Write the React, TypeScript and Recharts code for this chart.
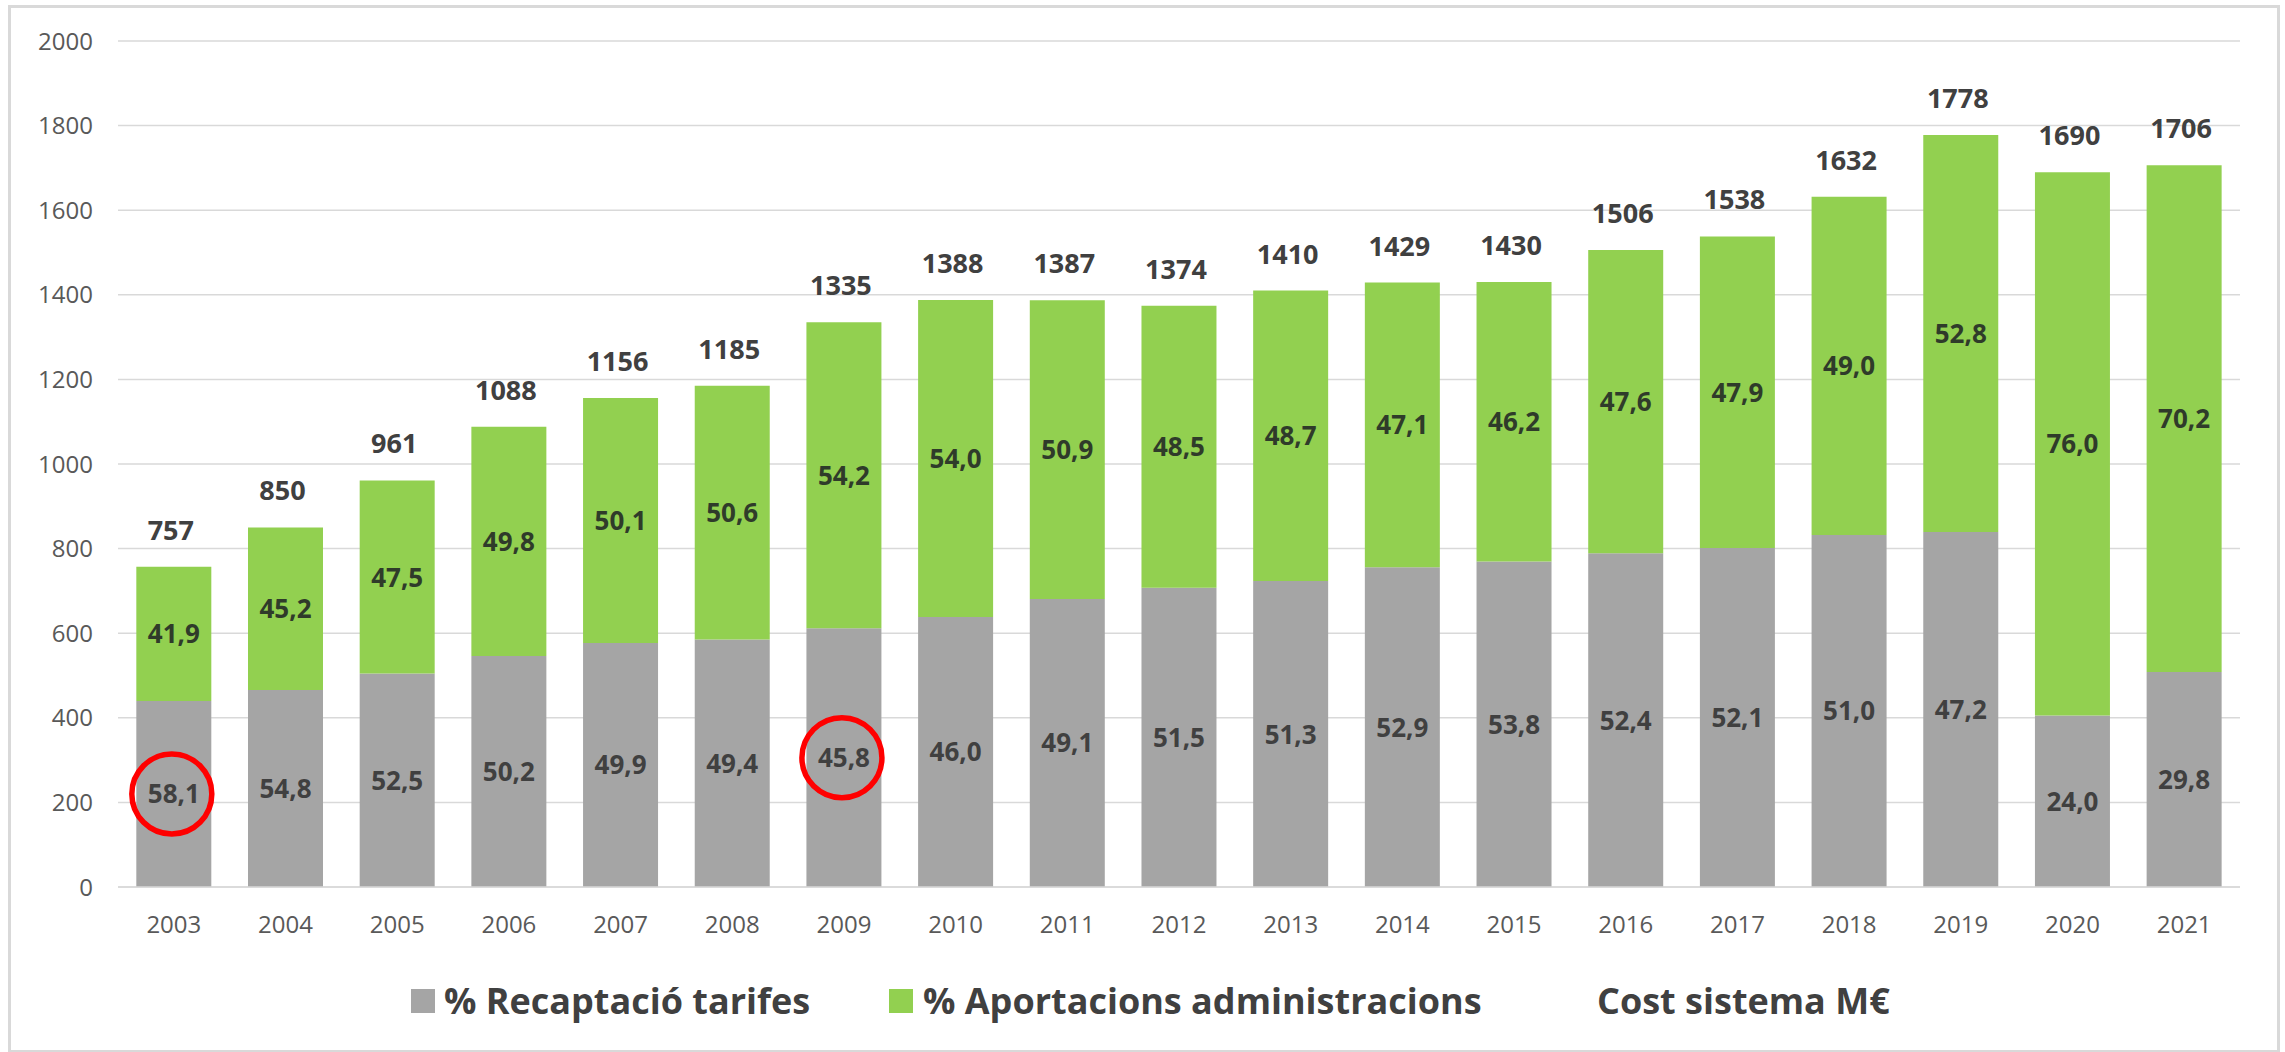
import React from 'react';
import { BarChart, Bar, XAxis, YAxis, CartesianGrid, LabelList } from 'recharts';

// Values
const years = [
  '2003', '2004', '2005', '2006', '2007', '2008', '2009', '2010', '2011', '2012',
  '2013', '2014', '2015', '2016', '2017', '2018', '2019', '2020', '2021',
];
const costSistema = [
  757, 850, 961, 1088, 1156, 1185, 1335, 1388, 1387, 1374,
  1410, 1429, 1430, 1506, 1538, 1632, 1778, 1690, 1706,
];
const pctTarifes = [
  58.1, 54.8, 52.5, 50.2, 49.9, 49.4, 45.8, 46.0, 49.1, 51.5,
  51.3, 52.9, 53.8, 52.4, 52.1, 51.0, 47.2, 24.0, 29.8,
];
const pctAportacions = [
  41.9, 45.2, 47.5, 49.8, 50.1, 50.6, 54.2, 54.0, 50.9, 48.5,
  48.7, 47.1, 46.2, 47.6, 47.9, 49.0, 52.8, 76.0, 70.2,
];
const yTicks = [0, 200, 400, 600, 800, 1000, 1200, 1400, 1600, 1800, 2000];
const highlightedYears = ['2003', '2009'];

const GRAY = '#A5A5A5';
const GREEN = '#92D050';
const FONT = '"Open Sans", sans-serif';

const chartData = years.map((year, i) => ({
  year,
  cost: costSistema[i],
  pctT: pctTarifes[i],
  pctA: pctAportacions[i],
  tarifes: (costSistema[i] * pctTarifes[i]) / 100,
  aportacions: (costSistema[i] * pctAportacions[i]) / 100,
}));

const fmt = (v: number) => v.toFixed(1).replace('.', ',');

const InnerLabel = ({ x, y, width, height, value, index, color, circles }: any) => {
  const cx = Number(x) + Number(width) / 2;
  const cy = Number(y) + Number(height) / 2;
  const showCircle = circles && highlightedYears.includes(years[index]);
  return (
    <g>
      <text
        x={cx}
        y={cy + 9.5}
        textAnchor="middle"
        fontFamily={FONT}
        fontWeight={700}
        fontSize={26}
        fill={color}
      >
        {fmt(Number(value))}
      </text>
      {showCircle && (
        <circle cx={cx - 2} cy={cy} r={40} fill="none" stroke="#FF0000" strokeWidth={5.5} />
      )}
    </g>
  );
};

const TopLabel = ({ x, y, width, value }: any) => (
  <text
    x={Number(x) + Number(width) / 2 - 3}
    y={Number(y) - 27}
    textAnchor="middle"
    fontFamily={FONT}
    fontWeight={700}
    fontSize={27}
    fill="#404040"
  >
    {value}
  </text>
);

const legendText: React.CSSProperties = {
  position: 'absolute',
  top: 978,
  fontFamily: FONT,
  fontWeight: 700,
  fontSize: 36,
  lineHeight: '46px',
  color: '#404040',
  whiteSpace: 'nowrap',
};

const swatch = (left: number, color: string): React.CSSProperties => ({
  position: 'absolute',
  left,
  top: 989,
  width: 24,
  height: 24,
  background: color,
});

export default function App() {
  return (
    <div style={{ position: 'absolute', left: 0, top: 0, width: 2285, height: 1052, background: '#fff' }}>
      <div
        style={{
          position: 'absolute',
          left: 8,
          top: 5,
          width: 2266,
          height: 1042,
          border: '3px solid #D9D9D9',
        }}
      />
      <BarChart
        width={2285}
        height={1052}
        data={chartData}
        margin={{ top: 41, right: 45, bottom: 105, left: 0 }}
        barCategoryGap="16.4%"
      >
        <CartesianGrid vertical={false} stroke="#D9D9D9" strokeWidth={1.5} />
        <XAxis
          dataKey="year"
          height={60}
          tickLine={false}
          axisLine={{ stroke: '#D9D9D9', strokeWidth: 1.5 }}
          tickMargin={23}
          tick={{ fontFamily: FONT, fontSize: 24, fill: '#595959' }}
        />
        <YAxis
          width={118}
          domain={[0, 2000]}
          ticks={yTicks}
          interval={0}
          tickLine={false}
          axisLine={false}
          tickMargin={19}
          tick={{ fontFamily: FONT, fontSize: 24, fill: '#595959' }}
        />
        <Bar dataKey="tarifes" stackId="a" fill={GRAY} isAnimationActive={false}>
          <LabelList dataKey="pctT" content={(p: any) => <InnerLabel {...p} color="#404040" circles />} />
        </Bar>
        <Bar dataKey="aportacions" stackId="a" fill={GREEN} isAnimationActive={false}>
          <LabelList dataKey="pctA" content={(p: any) => <InnerLabel {...p} color="#2F3B2A" />} />
          <LabelList dataKey="cost" content={TopLabel} />
        </Bar>
      </BarChart>
      <div style={swatch(411, GRAY)} />
      <div style={{ ...legendText, left: 444 }}>% Recaptació tarifes</div>
      <div style={swatch(889, GREEN)} />
      <div style={{ ...legendText, left: 923 }}>% Aportacions administracions</div>
      <div style={{ ...legendText, left: 1597 }}>Cost sistema M€</div>
    </div>
  );
}
